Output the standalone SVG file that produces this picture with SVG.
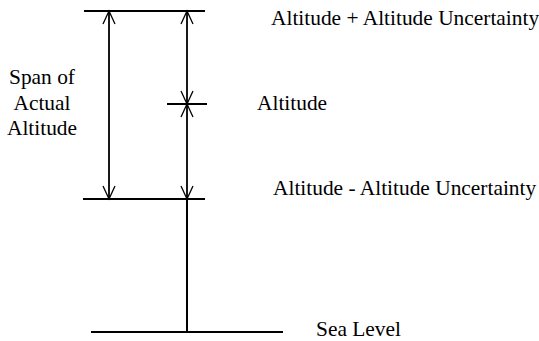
<svg xmlns="http://www.w3.org/2000/svg" width="539" height="341" viewBox="0 0 539 341">
<style>
.ln{stroke:#000;stroke-width:2;fill:none}
.ar{stroke:#000;stroke-width:1.8;fill:none;marker-start:url(#ah);marker-end:url(#ah)}
.t{font-family:'Liberation Serif','Times New Roman',serif;font-size:21.4px;fill:#000}
</style>
<defs>
<marker id="ah" markerUnits="userSpaceOnUse" markerWidth="16" markerHeight="16" viewBox="-14 -8 16 16" refX="0" refY="0" orient="auto-start-reverse">
<path d="M-13,-6 L0,0 L-13,6" stroke="#000" stroke-width="1.3" fill="none"/>
</marker>
</defs>
<g id="levels">
<line class="ln" x1="84" y1="11" x2="205" y2="11"/>
<line class="ln" x1="167" y1="104" x2="207" y2="104"/>
<line class="ln" x1="83" y1="199" x2="205" y2="199"/>
<line class="ln" x1="91" y1="332" x2="283" y2="332"/>
</g>
<g id="connectors">
<line class="ar" x1="109" y1="11" x2="109" y2="199"/>
<line class="ar" x1="187" y1="11" x2="187" y2="104"/>
<line class="ar" x1="187" y1="104" x2="187" y2="199"/>
<line class="ln" x1="187" y1="199" x2="187" y2="332"/>
</g>
<g id="labels">
<text class="t" x="271" y="25">Altitude + Altitude Uncertainty</text>
<text class="t" x="257" y="110">Altitude</text>
<text class="t" x="273" y="195">Altitude - Altitude Uncertainty</text>
<text class="t" x="316" y="336">Sea Level</text>
<text class="t" text-anchor="middle"><tspan x="42" y="84">Span of</tspan><tspan x="42" y="110">Actual</tspan><tspan x="42" y="135">Altitude</tspan></text>
</g>
</svg>
